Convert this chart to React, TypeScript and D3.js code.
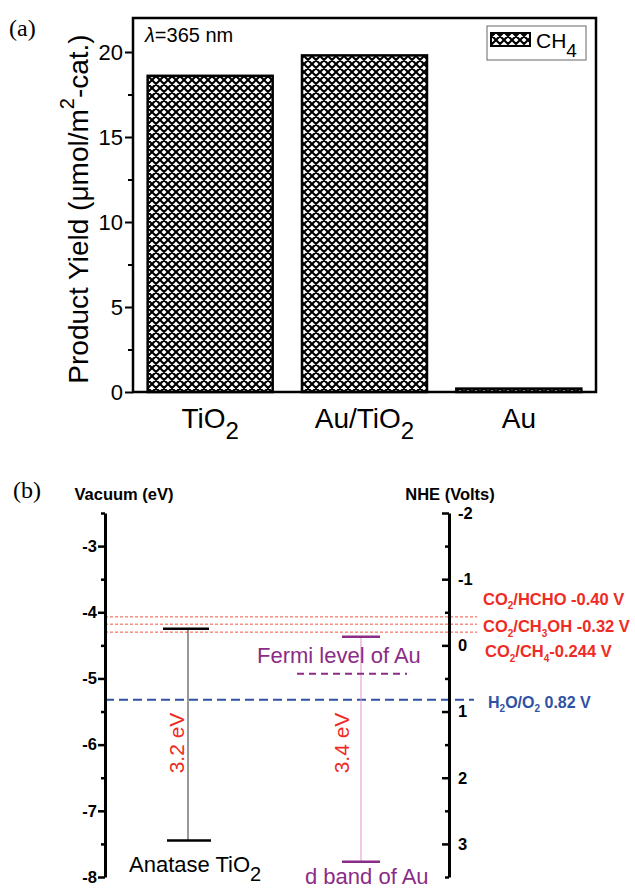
import React, { useEffect, useRef } from 'react';
import * as d3 from 'd3';

// panel (a): CH4 yield per catalyst
const catalysts = ['TiO_2', 'Au/TiO_2', 'Au'];
const ch4Yield = [18.6, 19.8, 0.2];
const yieldTicks = [0, 5, 10, 15, 20];
const yieldMinorTicks = [2.5, 7.5, 12.5, 17.5];

// panel (b): band positions (eV vs vacuum) and redox potentials (V vs NHE)
const vacTicks = [-3, -4, -5, -6, -7, -8];
const vacMinorTicks = [-2.5, -3.5, -4.5, -5.5, -6.5, -7.5];
const nheTicks = [-2, -1, 0, 1, 2, 3];
const nheMinorTicks = [-1.5, -0.5, 0.5, 1.5, 2.5, 3.5];
const redoxLabels = ['CO_2/HCHO -0.40 V', 'CO_2/CH_3OH -0.32 V', 'CO_2/CH_4-0.244 V'];
const redoxLines = [-0.43, -0.32, -0.2];
const waterLabel = 'H_2O/O_2 0.82 V';
const waterLine = 0.82;
const tio2Bands = [-4.25, -7.45]; // CB, VB
const auBands = [-4.37, -7.77]; // sp top, d band
const auFermi = -4.93;

const SANS = '"Liberation Sans", Arial, sans-serif';
const SERIF = '"Liberation Serif", "Times New Roman", serif';
const RED = '#ee2b24';
const BLUE = '#2f52a4';
const PURPLE = '#8b2c86';
const PINK = '#e690c8';

// "_x" => subscript x, "^x" => superscript x
function richText(sel, str, size, small) {
  let off = 0;
  let buf = '';
  const flush = () => {
    if (!buf) return;
    sel.append('tspan').attr('dy', -off || null).attr('font-size', size).text(buf);
    off = 0;
    buf = '';
  };
  for (let i = 0; i < str.length; i++) {
    const c = str[i];
    if ((c === '_' || c === '^') && i + 1 < str.length) {
      flush();
      const shift = c === '_' ? small * 0.45 : -small * 0.7;
      sel.append('tspan').attr('dy', shift - off).attr('font-size', small).text(str[i + 1]);
      off = shift;
      i++;
    } else {
      buf += c;
    }
  }
  flush();
}

const App = () => {
  const ref = useRef(null);

  useEffect(() => {
    const svg = d3.select(ref.current);
    svg.selectAll('*').remove();

    const defs = svg.append('defs');
    const pat = defs.append('pattern')
      .attr('id', 'xhatch')
      .attr('patternUnits', 'userSpaceOnUse')
      .attr('width', 8)
      .attr('height', 8);
    pat.append('rect').attr('width', 8).attr('height', 8).attr('fill', '#fff');
    pat.append('path')
      .attr('d', 'M-1,1L1,-1M0,8L8,0M7,9L9,7M-1,7L1,9M0,0L8,8M7,-1L9,1')
      .attr('stroke', '#000')
      .attr('stroke-width', 2.1);

    // ---------- panel (a) ----------
    const aL = 133, aR = 596, aT = 18, aB = 392;
    const x = d3.scaleBand().domain(catalysts).range([aL, aR]).paddingInner(0.19).paddingOuter(0.095);
    const y = d3.scaleLinear().domain([0, 22]).range([aB, aT]);

    svg.append('text').attr('x', 9).attr('y', 36)
      .attr('font-family', SERIF).attr('font-size', 24).text('(a)');

    svg.append('g').selectAll('rect')
      .data(catalysts)
      .enter().append('rect')
      .attr('x', d => x(d))
      .attr('y', (d, i) => y(ch4Yield[i]))
      .attr('width', x.bandwidth())
      .attr('height', (d, i) => aB - y(ch4Yield[i]))
      .attr('fill', 'url(#xhatch)')
      .attr('stroke', '#000')
      .attr('stroke-width', 2.5);

    svg.append('rect')
      .attr('x', aL).attr('y', aT).attr('width', aR - aL).attr('height', aB - aT)
      .attr('fill', 'none').attr('stroke', '#000').attr('stroke-width', 2.5);

    const yAx = svg.append('g')
      .attr('transform', `translate(${aL},0)`)
      .call(d3.axisLeft(y).tickValues(yieldTicks).tickSize(8).tickSizeOuter(0).tickPadding(2));
    yAx.select('.domain').remove();
    yAx.selectAll('line').attr('stroke-width', 2);
    yAx.selectAll('text').attr('font-family', SANS).attr('font-size', 22).attr('fill', '#000');

    const yMin = svg.append('g')
      .attr('transform', `translate(${aL},0)`)
      .call(d3.axisLeft(y).tickValues(yieldMinorTicks).tickSize(5).tickFormat(() => ''));
    yMin.select('.domain').remove();
    yMin.selectAll('line').attr('stroke-width', 2);

    // category labels
    catalysts.forEach(c => {
      const t = svg.append('text')
        .attr('x', x(c) + x.bandwidth() / 2)
        .attr('y', 428)
        .attr('text-anchor', 'middle')
        .attr('font-family', SANS);
      richText(t, c, 28, 24);
    });

    // y title
    const yt = svg.append('text')
      .attr('transform', `translate(88,209) rotate(-90)`)
      .attr('text-anchor', 'middle')
      .attr('font-family', SANS);
    richText(yt, 'Product Yield (\u03bcmol/m^2-cat.)', 28, 20);

    svg.append('text').attr('x', 145).attr('y', 42)
      .attr('font-family', SANS).attr('font-size', 20)
      .call(t => {
        t.append('tspan').attr('font-style', 'italic').text('\u03bb');
        t.append('tspan').text('=365 nm');
      });

    // legend
    const lg = svg.append('g');
    lg.append('rect').attr('x', 487).attr('y', 26).attr('width', 99).attr('height', 34)
      .attr('fill', '#fff').attr('stroke', '#666').attr('stroke-width', 1);
    lg.append('rect').attr('x', 491).attr('y', 33).attr('width', 39).attr('height', 13)
      .attr('fill', 'url(#xhatch)').attr('stroke', '#000').attr('stroke-width', 2);
    const lt = lg.append('text').attr('x', 536).attr('y', 48).attr('font-family', SANS);
    richText(lt, 'CH_4', 21, 19);

    // ---------- panel (b) ----------
    const bL = 105, bR = 449, bT = 513, bB = 877;
    const vac = d3.scaleLinear().domain([-2.5, -8]).range([bT, bB]);
    const nhe = d3.scaleLinear().domain([-2, 3.5]).range([bT, bB]);

    svg.append('text').attr('x', 13).attr('y', 498)
      .attr('font-family', SERIF).attr('font-size', 24).text('(b)');

    svg.append('text').attr('x', 124).attr('y', 500).attr('text-anchor', 'middle')
      .attr('font-family', SANS).attr('font-weight', 'bold').attr('font-size', 16.5)
      .text('Vacuum (eV)');
    svg.append('text').attr('x', 450).attr('y', 500).attr('text-anchor', 'middle')
      .attr('font-family', SANS).attr('font-weight', 'bold').attr('font-size', 16.5)
      .text('NHE (Volts)');

    // level lines
    redoxLines.forEach(v => {
      svg.append('line')
        .attr('x1', bL).attr('x2', 477).attr('y1', nhe(v)).attr('y2', nhe(v))
        .attr('stroke', '#f2553f').attr('stroke-width', 1).attr('stroke-dasharray', '3,2');
    });
    svg.append('line')
      .attr('x1', bL).attr('x2', 474).attr('y1', nhe(waterLine)).attr('y2', nhe(waterLine))
      .attr('stroke', BLUE).attr('stroke-width', 2).attr('stroke-dasharray', '9,5');

    const labelDy = [-15, 5, 25];
    redoxLabels.forEach((s, i) => {
      const t = svg.append('text')
        .attr('x', i === 2 ? 485 : 483)
        .attr('y', nhe(redoxLines[i]) + labelDy[i] + (i === 2 ? 0 : 3))
        .attr('font-family', SANS).attr('font-weight', 'bold').attr('fill', RED);
      richText(t, s, 16.5, 10);
    });
    const wt = svg.append('text')
      .attr('x', 488).attr('y', nhe(waterLine) + 8)
      .attr('font-family', SANS).attr('font-weight', 'bold').attr('fill', BLUE);
    richText(wt, waterLabel, 16, 10);

    // axes
    const styleAxis = g => {
      g.select('.domain').attr('stroke-width', 3);
      g.selectAll('line').attr('stroke-width', 2.5);
      g.selectAll('text').attr('font-family', SANS).attr('font-weight', 'bold')
        .attr('font-size', 16.5).attr('fill', '#000');
    };
    const lAx = svg.append('g').attr('transform', `translate(${bL},0)`)
      .call(d3.axisLeft(vac).tickValues(vacTicks).tickSize(7).tickSizeOuter(0).tickPadding(1)
        .tickFormat(d => String(d)));
    styleAxis(lAx);
    const lMin = svg.append('g').attr('transform', `translate(${bL},0)`)
      .call(d3.axisLeft(vac).tickValues(vacMinorTicks).tickSize(4).tickFormat(() => ''));
    lMin.select('.domain').remove();
    lMin.selectAll('line').attr('stroke-width', 2.5);

    const rAx = svg.append('g').attr('transform', `translate(${bR},0)`)
      .call(d3.axisRight(nhe).tickValues(nheTicks).tickSize(-7).tickSizeOuter(0).tickPadding(9)
        .tickFormat(d => String(d)));
    styleAxis(rAx);
    const rMin = svg.append('g').attr('transform', `translate(${bR},0)`)
      .call(d3.axisRight(nhe).tickValues(nheMinorTicks).tickSize(-4).tickFormat(() => ''));
    rMin.select('.domain').remove();
    rMin.selectAll('line').attr('stroke-width', 2.5);

    // anatase TiO2
    const tx = 188;
    svg.append('line').attr('x1', tx).attr('x2', tx)
      .attr('y1', vac(tio2Bands[0])).attr('y2', vac(tio2Bands[1]))
      .attr('stroke', '#333').attr('stroke-width', 1);
    svg.append('line').attr('x1', tx - 25).attr('x2', tx + 21)
      .attr('y1', vac(tio2Bands[0])).attr('y2', vac(tio2Bands[0]))
      .attr('stroke', '#000').attr('stroke-width', 2.5);
    svg.append('line').attr('x1', tx - 21).attr('x2', tx + 23)
      .attr('y1', vac(tio2Bands[1])).attr('y2', vac(tio2Bands[1]))
      .attr('stroke', '#000').attr('stroke-width', 2.5);
    svg.append('text').attr('transform', 'translate(184,743) rotate(-90)')
      .attr('text-anchor', 'middle').attr('font-family', SANS).attr('font-size', 21)
      .attr('fill', RED).text('3.2 eV');
    const at = svg.append('text').attr('x', 129).attr('y', 872).attr('font-family', SANS);
    richText(at, 'Anatase TiO_2', 22, 20);

    // Au
    const ax = 361;
    svg.append('line').attr('x1', ax).attr('x2', ax)
      .attr('y1', vac(auBands[0])).attr('y2', vac(auBands[1]))
      .attr('stroke', PINK).attr('stroke-width', 1);
    auBands.forEach(v => {
      svg.append('line').attr('x1', ax - 19).attr('x2', ax + 19)
        .attr('y1', vac(v)).attr('y2', vac(v))
        .attr('stroke', PURPLE).attr('stroke-width', 2.5);
    });
    svg.append('line').attr('x1', 297).attr('x2', 407)
      .attr('y1', vac(auFermi)).attr('y2', vac(auFermi))
      .attr('stroke', PURPLE).attr('stroke-width', 2).attr('stroke-dasharray', '7,5');
    svg.append('text').attr('transform', 'translate(349,743) rotate(-90)')
      .attr('text-anchor', 'middle').attr('font-family', SANS).attr('font-size', 21)
      .attr('fill', RED).text('3.4 eV');
    svg.append('text').attr('x', 257).attr('y', 663).attr('font-family', SANS)
      .attr('font-size', 22).attr('fill', PURPLE).text('Fermi level of Au');
    svg.append('text').attr('x', 305).attr('y', 884).attr('font-family', SANS)
      .attr('font-size', 22).attr('fill', PURPLE).text('d band of Au');
  }, []);

  return (
    <svg
      ref={ref}
      width={635}
      height={890}
      style={{ position: 'absolute', left: 0, top: 0, background: '#fff' }}
    />
  );
};

export default App;
